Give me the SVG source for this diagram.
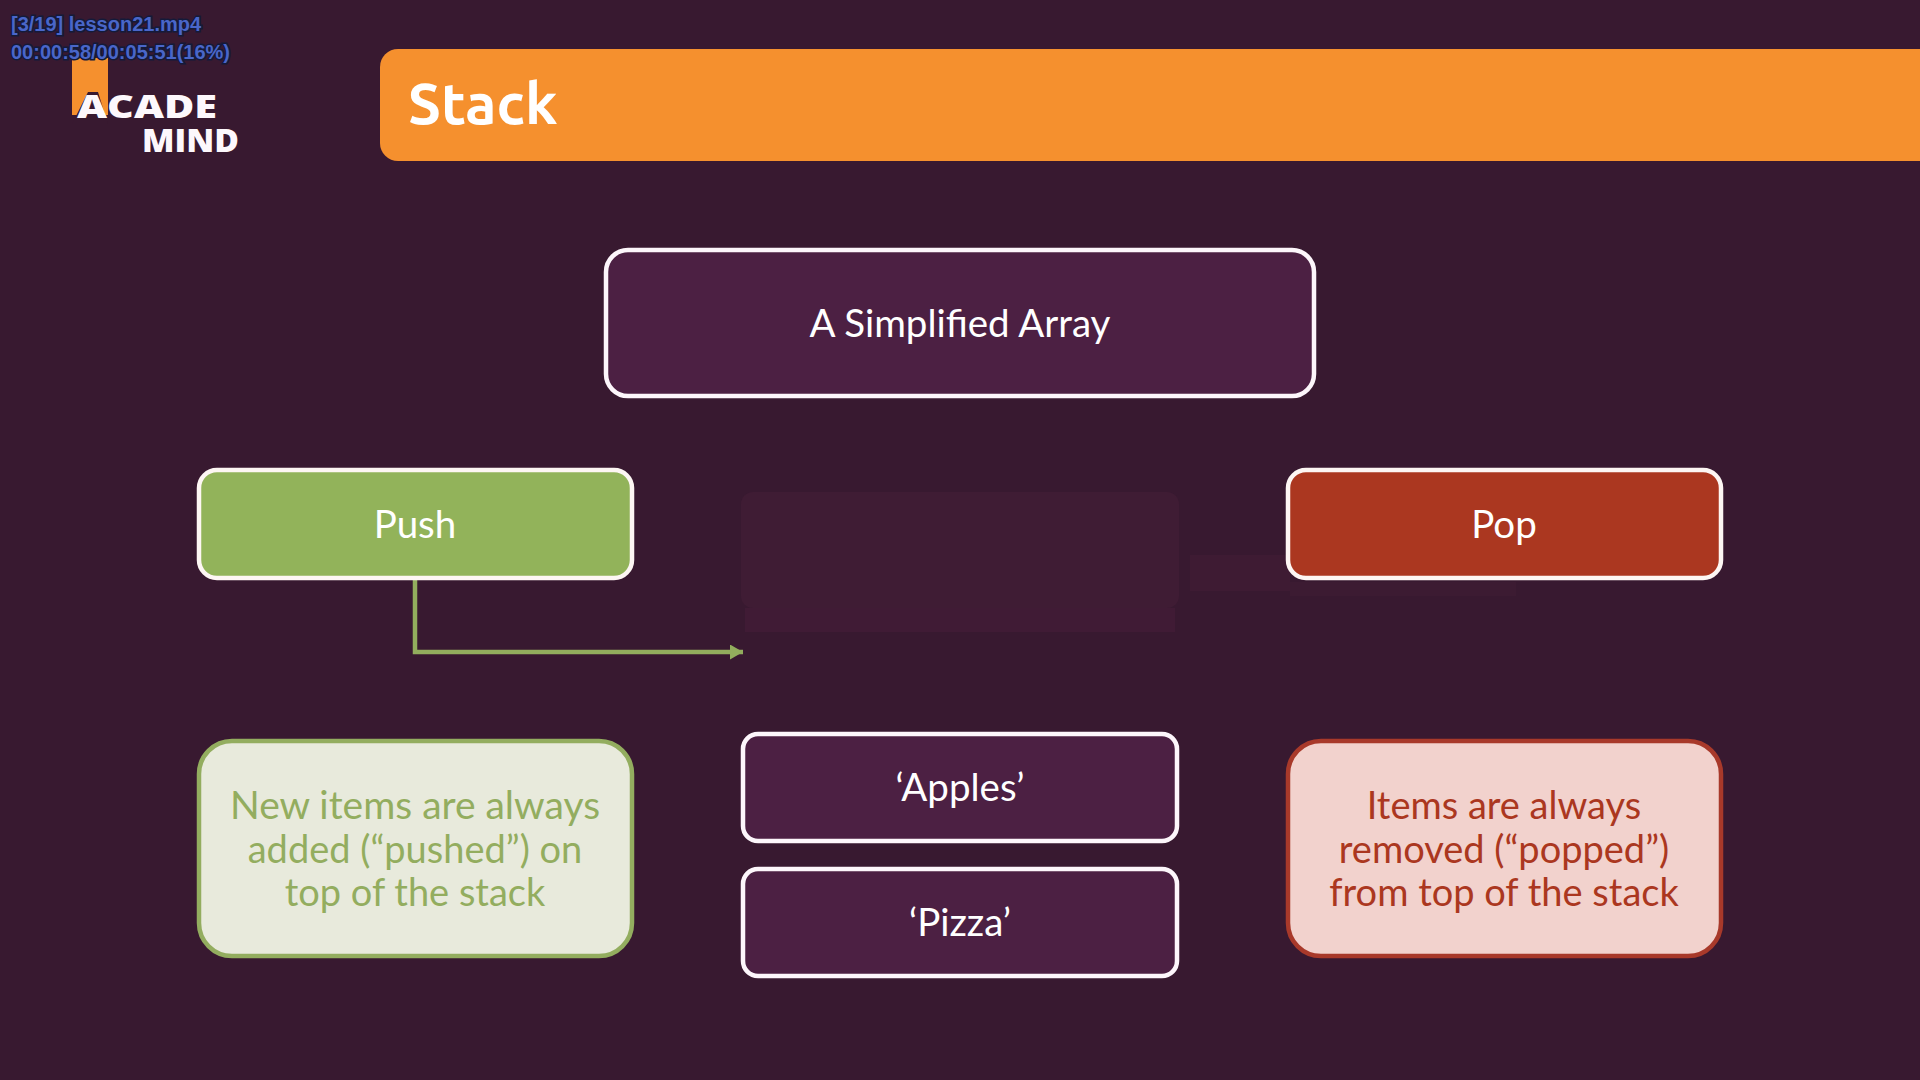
<svg xmlns="http://www.w3.org/2000/svg" width="1920" height="1080" viewBox="0 0 1920 1080">
<style>
.t{font-family:Lato,"Noto Sans",sans-serif;text-anchor:middle}
.w{fill:#fff;font-size:38.5px}
.dk{fill:#4c2043;stroke:#fdf6fb;stroke-width:4.5}
.note{font-size:38px}
.hud{font-family:"Liberation Sans",Arial,sans-serif;font-weight:700;font-size:20px;fill:#4a66c9;stroke:#141a3a;stroke-width:3;paint-order:stroke}
.logo{font-family:"Open Sans",Inter,sans-serif;font-weight:800;fill:#fdf8fc;font-size:31px}
</style>
<defs><marker id="ah" markerUnits="userSpaceOnUse" markerWidth="14" markerHeight="15" refX="13" refY="7.5" orient="auto"><path d="M0,0L13,7.5L0,15Z" fill="#92ad5d"/></marker></defs>
<rect width="1920" height="1080" fill="#381930"/>
<g id="ghosts" fill="#3f1c34">
<rect x="741" y="492" width="438" height="116" rx="12"/>
<rect x="1190" y="555" width="100" height="36" fill="#3e1b33"/>
<rect x="1290" y="582" width="226" height="14" fill="#3c1b32"/>
<rect x="745" y="608" width="430" height="24" fill="#401b35"/>
</g>
<g id="header">
<path d="M1920,49H398a18,18 0 0 0-18,18v76a18,18 0 0 0 18,18H1920Z" fill="#f5902e"/>
<text x="408" y="124" font-family="Ubuntu,'Open Sans',sans-serif" font-weight="700" font-size="58" fill="#fff">Stack</text>
</g>
<g id="logo">
<path d="M72,58H108V115H72Z" fill="#f5902e"/>
<path d="M72,124L88,92H98L108,124Z" fill="#381930"/>
<text class="logo" x="77" y="118" textLength="140" lengthAdjust="spacingAndGlyphs">ACADE</text>
<text class="logo" x="142" y="152" textLength="97" lengthAdjust="spacingAndGlyphs">MIND</text>
</g>
<g id="hud">
<text class="hud" x="11" y="31">[3/19] lesson21.mp4</text>
<text class="hud" x="11" y="59">00:00:58/00:05:51(16%)</text>
</g>
<g id="connectors">
<path d="M415,578V652H743" fill="none" stroke="#92ad5d" stroke-width="4.5" marker-end="url(#ah)"/>
</g>
<g id="simplified-array">
<rect class="dk" x="606" y="250" width="708" height="146" rx="22"/>
<text class="t w" x="960" y="337">A Simplified Array</text>
</g>
<g id="push">
<rect x="199" y="470" width="433" height="108" rx="18" fill="#92b35a" stroke="#fdf6f3" stroke-width="4.5"/>
<text class="t w" x="415" y="538">Push</text>
</g>
<g id="pop">
<rect x="1288" y="470" width="433" height="108" rx="18" fill="#ab3720" stroke="#fdf6f3" stroke-width="4.5"/>
<text class="t w" x="1504" y="538">Pop</text>
</g>
<g id="note-push">
<rect x="199" y="741" width="433" height="215" rx="33" fill="#e8eadc" stroke="#93ad5f" stroke-width="4.5"/>
<text class="t" font-size="39" fill="#93ad5f" x="415" y="819">New items are always</text>
<text class="t note" fill="#93ad5f" x="415" y="863">added (“pushed”) on</text>
<text class="t note" fill="#93ad5f" x="415" y="906">top of the stack</text>
</g>
<g id="note-pop">
<rect x="1288" y="741" width="433" height="215" rx="33" fill="#f2d2cd" stroke="#a8392a" stroke-width="4.5"/>
<text class="t note" fill="#ab3720" x="1504" y="819">Items are always</text>
<text class="t note" fill="#ab3720" x="1504" y="863">removed (“popped”)</text>
<text class="t note" fill="#ab3720" x="1504" y="906">from top of the stack</text>
</g>
<g id="apples">
<rect class="dk" x="743" y="734" width="434" height="107" rx="15"/>
<text class="t w" x="960" y="801">‘Apples’</text>
</g>
<g id="pizza">
<rect class="dk" x="743" y="869" width="434" height="107" rx="15"/>
<text class="t w" x="960" y="936">‘Pizza’</text>
</g>
</svg>
